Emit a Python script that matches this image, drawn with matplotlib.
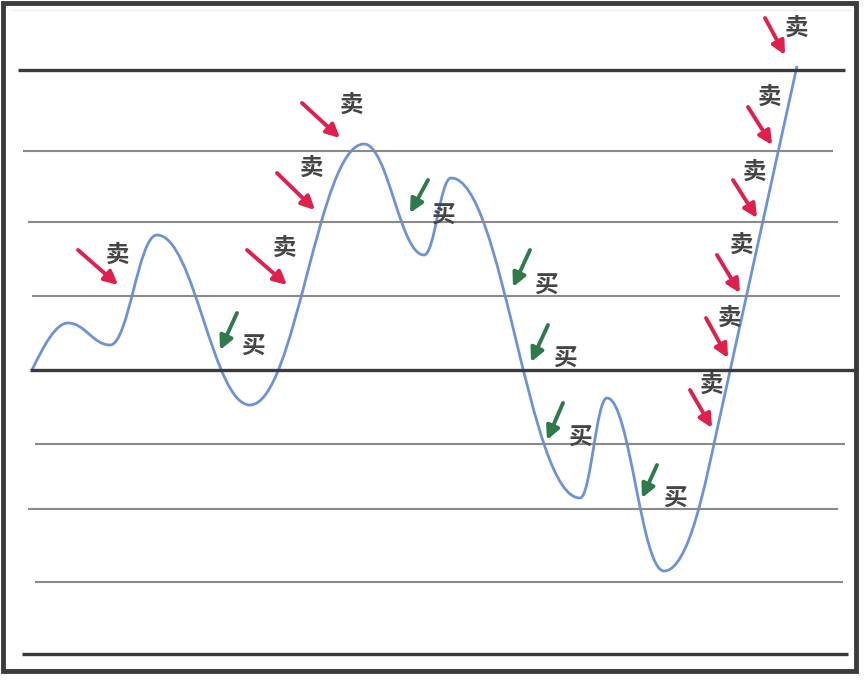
import matplotlib.pyplot as plt
from matplotlib.path import Path
from matplotlib.patches import PathPatch, Rectangle

plt.rcParams['font.family'] = ['Noto Sans CJK SC', 'DejaVu Sans']

# grid levels (image pixel units, y grows downward)
grid_y = [70, 151, 222, 296, 370, 444, 509, 582, 654]
grid_x0 = [18, 23, 28, 32, 30, 35, 28, 35, 22]
grid_x1 = [845, 833, 838, 840, 858, 845, 838, 843, 848]
grid_heavy = [True, False, False, False, True, False, False, False, True]

# price curve: start point, turning points, then the final straight run
curve_start = (32, 370)
turn_x = [68, 110, 157, 250, 364, 424, 451, 580, 607, 664]
turn_y = [323, 345, 235, 405, 144, 255, 178, 498, 398, 571]
curve_end = (797, 66)

# sell arrows (tail, head) and label positions
sell_tail = [(78, 250), (247, 250), (277, 173), (302, 103), (765, 18),
             (748, 107), (733, 180), (717, 255), (706, 318), (690, 390)]
sell_head = [(118, 285), (287, 285), (315, 210), (340, 138), (785, 55),
             (772, 145), (757, 218), (740, 293), (728, 358), (712, 428)]
sell_label = [(118, 255), (285, 248), (312, 168), (352, 105), (797, 28),
              (770, 97), (755, 172), (742, 245), (730, 318), (712, 385)]

# buy arrows (tail, head) and label positions
buy_tail = [(237, 313), (428, 180), (530, 250), (548, 325), (563, 403), (657, 465)]
buy_head = [(220, 350), (410, 213), (513, 287), (531, 362), (547, 440), (642, 498)]
buy_label = [(253, 346), (443, 215), (546, 285), (565, 358), (580, 437), (675, 498)]

fig = plt.figure(figsize=(8.65, 6.8), dpi=100)
ax = fig.add_axes([0, 0, 1, 1])
ax.set_xlim(0, 865)
ax.set_ylim(680, 0)
ax.axis('off')

# outer frame
ax.add_patch(Rectangle((3, 3), 853, 668, fill=False, ec='#3c3c3c', lw=3.5))
ax.plot([10, 850], [10, 10], color='#eeeeee', lw=1)

for y, x0, x1, heavy in zip(grid_y, grid_x0, grid_x1, grid_heavy):
    if heavy:
        ax.plot([x0, x1], [y, y], color='#3a3a3a', lw=2.4, solid_capstyle='butt')
    else:
        ax.plot([x0, x1], [y, y], color='#8a8a8a', lw=1.5, solid_capstyle='butt')

# build the smooth curve as cubic bezier segments through the turning points
verts = [curve_start]
codes = [Path.MOVETO]
x0, y0 = turn_x[0], turn_y[0]
verts += [(44, 345), (56, y0), (x0, y0)]
codes += [Path.CURVE4] * 3
k = 0.4
for x1, y1 in zip(turn_x[1:], turn_y[1:]):
    d = (x1 - x0) * k
    verts += [(x0 + d, y0), (x1 - d, y1), (x1, y1)]
    codes += [Path.CURVE4] * 3
    x0, y0 = x1, y1
# last leg bends up out of the bottom and runs straight to the top line
slope = (curve_end[0] - 717) / (curve_end[1] - 430)
verts += [(x0 + 25, y0), (717 + slope * 50, 480), (717, 430), curve_end]
codes += [Path.CURVE4] * 3 + [Path.LINETO]
ax.add_patch(PathPatch(Path(verts, codes), fill=False, ec='#6d93d6', lw=2.0))

arrow = '-|>,head_length=0.8,head_width=0.4'
for t, h, lab in zip(sell_tail, sell_head, sell_label):
    ax.annotate('', xy=h, xytext=t,
                arrowprops=dict(arrowstyle=arrow, color='#e0204c', lw=2.8,
                                shrinkA=0, shrinkB=0))
    ax.text(lab[0], lab[1], '卖', fontsize=17, fontweight='bold', color='#454545',
            ha='center', va='center')

for t, h, lab in zip(buy_tail, buy_head, buy_label):
    ax.annotate('', xy=h, xytext=t,
                arrowprops=dict(arrowstyle=arrow, color='#2e7a4c', lw=2.8,
                                shrinkA=0, shrinkB=0))
    ax.text(lab[0], lab[1], '买', fontsize=17, fontweight='bold', color='#454545',
            ha='center', va='center')

fig.savefig('out.png', dpi=100, facecolor='white')
